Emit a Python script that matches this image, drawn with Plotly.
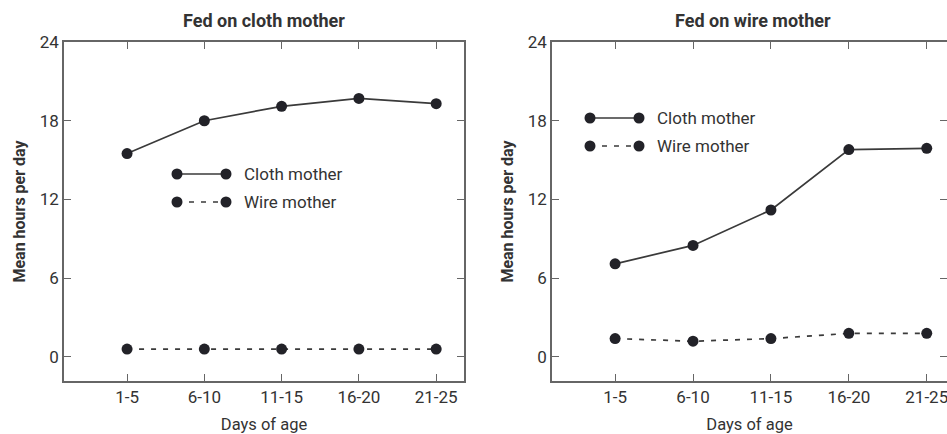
import plotly.graph_objects as go

categories = ["1-5", "6-10", "11-15", "16-20", "21-25"]
cloth_fed_cloth = [15.5, 18.0, 19.1, 19.7, 19.3]
wire_fed_cloth = [0.6, 0.6, 0.6, 0.6, 0.6]
cloth_fed_wire = [7.1, 8.5, 11.2, 15.8, 15.9]
wire_fed_wire = [1.4, 1.2, 1.4, 1.8, 1.8]
y_ticks = [0, 6, 12, 18, 24]
panel_titles = ["Fed on cloth mother", "Fed on wire mother"]
series_names = ["Cloth mother", "Wire mother"]

FONT = "Roboto"
TXT = "#333333"
MK = "#222228"
LN = "#3a3a3a"
AX = "#666666"
W, H = 947, 434
DASH = "5px,7px"

fig = go.Figure()
xs = list(range(len(categories)))

def add_panel(cloth, wire, xa, ya):
    fig.add_trace(go.Scatter(x=xs, y=cloth, mode="lines+markers", name=series_names[0],
                             xaxis=xa, yaxis=ya, showlegend=False,
                             line=dict(color=LN, width=1.7),
                             marker=dict(size=11, color=MK)))
    fig.add_trace(go.Scatter(x=xs, y=wire, mode="lines+markers", name=series_names[1],
                             xaxis=xa, yaxis=ya, showlegend=False,
                             line=dict(color=LN, width=1.7, dash=DASH),
                             marker=dict(size=11, color=MK)))

add_panel(cloth_fed_cloth, wire_fed_cloth, "x", "y")
add_panel(cloth_fed_wire, wire_fed_wire, "x2", "y2")

ydom = [1 - 381 / H, 1 - 42 / H]
xdom1 = [64 / W, 464 / W]
xdom2 = [552 / W, 1.0]

axis_common = dict(showline=True, linecolor=AX, linewidth=1.5, mirror="ticks",
                   ticks="inside", ticklen=7, tickcolor=AX, tickwidth=1.3,
                   showgrid=False, zeroline=False, automargin=False,
                   ticklabeloverflow="allow",
                   tickfont=dict(family=FONT, size=17, color=TXT))

xcommon = dict(axis_common, tickvals=xs, ticktext=categories,
               title=dict(text="Days of age", font=dict(family=FONT, size=16.5, color=TXT), standoff=12))
ycommon = dict(axis_common, tickvals=y_ticks, range=[-1.83, 24],
               title=dict(text="<b>Mean hours per day</b>", font=dict(family=FONT, size=16, color=TXT), standoff=10))

fig.update_layout(
    width=W, height=H,
    margin=dict(l=0, r=0, t=0, b=0, autoexpand=False),
    paper_bgcolor="white", plot_bgcolor="white",
    font=dict(family=FONT, color=TXT),
    xaxis=dict(xcommon, domain=xdom1, range=[-0.816, 4.36], anchor="y"),
    yaxis=dict(ycommon, domain=ydom, anchor="x"),
    xaxis2=dict(xcommon, domain=xdom2, range=[-0.81, 4.26], anchor="y2"),
    yaxis2=dict(ycommon, domain=ydom, anchor="x2"),
)

# panel titles
for i, t in enumerate(panel_titles):
    fig.add_annotation(text=f"<b>{t}</b>", xref=f"x{'' if i == 0 else 2} domain", yref="paper",
                       x=0.5 if i == 0 else 0.51, y=1 - 21 / H, showarrow=False, xanchor="center", yanchor="middle",
                       font=dict(family=FONT, size=18, color=TXT))

# custom legends (key: marker - line - marker, then label)
legend_layout = [
    dict(xr="x domain", yr="y domain", x0=0.2825, x1=0.405, xt=0.445, rows=[0.6106, 0.528]),
    dict(xr="x2 domain", yr="y2 domain", x0=0.0962, x1=0.2203, xt=0.2608, rows=[0.7758, 0.6932]),
]
for lg in legend_layout:
    for j, name in enumerate(series_names):
        yy = lg["rows"][j]
        fig.add_shape(type="line", xref=lg["xr"], yref=lg["yr"], x0=lg["x0"], x1=lg["x1"], y0=yy, y1=yy,
                      line=dict(color=LN, width=1.7, dash="solid" if j == 0 else DASH))
        for xx in (lg["x0"], lg["x1"]):
            fig.add_shape(type="circle", xref=lg["xr"], yref=lg["yr"], xsizemode="pixel", ysizemode="pixel",
                          xanchor=xx, yanchor=yy, x0=-5.5, x1=5.5, y0=-5.5, y1=5.5,
                          fillcolor=MK, line=dict(color=MK, width=0))
        fig.add_annotation(text=name, xref=lg["xr"], yref=lg["yr"], x=lg["xt"], y=yy,
                           showarrow=False, xanchor="left", yanchor="middle",
                           font=dict(family=FONT, size=17, color=TXT))

fig.write_html("out.html", config={"displayModeBar": False},
               post_script="document.body.style.margin='0';document.body.style.overflow='hidden';")
